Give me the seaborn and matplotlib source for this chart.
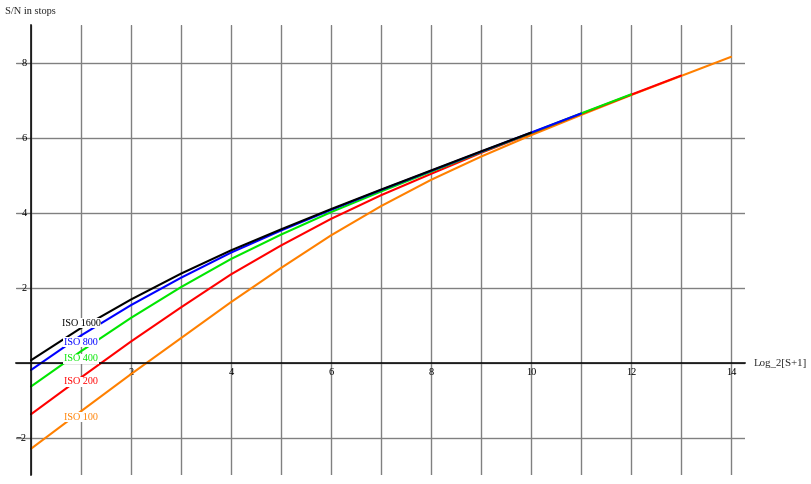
import numpy as np
import pandas as pd
import matplotlib
matplotlib.use("Agg")
import matplotlib.pyplot as plt
from matplotlib.ticker import MultipleLocator, FuncFormatter
import seaborn as sns

# S/N (stops) at integer Log_2[S+1]
iso_1600 = [0.06, 0.92, 1.68, 2.37, 2.99, 3.55, 4.09, 4.61, 5.12, 5.63, 6.13]
iso_800 = [-0.20, 0.72, 1.53, 2.26, 2.93, 3.52, 4.07, 4.60, 5.11, 5.62, 6.13, 6.64]
iso_400 = [-0.64, 0.30, 1.19, 2.01, 2.76, 3.41, 4.01, 4.56, 5.09, 5.61, 6.12, 6.64, 7.15]
iso_200 = [-1.38, -0.40, 0.56, 1.47, 2.35, 3.12, 3.83, 4.46, 5.03, 5.59, 6.11, 6.63, 7.14, 7.65]
iso_100 = [-2.30, -1.30, -0.31, 0.65, 1.61, 2.52, 3.39, 4.17, 4.87, 5.49, 6.06, 6.60, 7.13, 7.64, 8.15]

series = {"ISO 100": iso_100, "ISO 200": iso_200, "ISO 400": iso_400,
          "ISO 800": iso_800, "ISO 1600": iso_1600}
colors = {"ISO 100": "#ff8000", "ISO 200": "#ff0000", "ISO 400": "#00e600",
          "ISO 800": "#0000ff", "ISO 1600": "#000000"}
# label anchor heights near x = 1
label_y = {"ISO 1600": 1.05, "ISO 800": 0.54, "ISO 400": 0.10,
           "ISO 200": -0.52, "ISO 100": -1.46}

rows = []
for name, vals in series.items():
    for x, v in enumerate(vals):
        rows.append({"x": x, "sn": v, "iso": name})
df = pd.DataFrame(rows)

sns.set_style("white")
plt.rcParams["font.family"] = ["Liberation Serif", "DejaVu Serif"]
plt.rcParams["axes.unicode_minus"] = True

fig = plt.figure(figsize=(8.12, 4.84), dpi=100)
ax = fig.add_axes([16 / 812, 9 / 484, 729 / 812, 450 / 484])

sns.lineplot(data=df, x="x", y="sn", hue="iso", hue_order=list(series.keys()),
             palette=colors, linewidth=1.5, legend=False, ax=ax, zorder=3)

ax.set_xlim(-0.3, 14.28)
ax.set_ylim(-3.0, 9.0)

# mathematica style axes through the origin
for side in ["top", "right"]:
    ax.spines[side].set_visible(False)
ax.spines["left"].set_position(("data", 0))
ax.spines["bottom"].set_position(("data", 0))
for side in ["left", "bottom"]:
    ax.spines[side].set_linewidth(1.1)
    ax.spines[side].set_color("black")
    ax.spines[side].set_zorder(4)

ax.xaxis.set_major_locator(MultipleLocator(1))
ax.xaxis.set_minor_locator(MultipleLocator(0.5))
ax.yaxis.set_major_locator(MultipleLocator(2))
ax.yaxis.set_minor_locator(MultipleLocator(0.5))
ax.xaxis.set_major_formatter(FuncFormatter(
    lambda v, p: f"{int(round(v))}" if round(v) % 2 == 0 and round(v) != 0 else ""))
ax.yaxis.set_major_formatter(FuncFormatter(
    lambda v, p: "" if round(v) == 0 else f"{int(round(v))}".replace("-", "\u2212")))

ax.tick_params(which="both", direction="in", color="black", width=0.9,
               labelsize=7.5, labelcolor="black")
ax.tick_params(which="major", length=3.5)
ax.tick_params(which="minor", length=2)
ax.tick_params(axis="x", pad=4)
ax.tick_params(axis="y", pad=3)
ax.set_xlabel("")
ax.set_ylabel("")

ax.grid(True, which="major", color="#808080", linewidth=1.0)
ax.set_axisbelow(True)

for name, yv in label_y.items():
    ax.text(1.0, yv, name, color=colors[name], fontsize=7.3, ha="center", va="center",
            zorder=5, bbox=dict(facecolor="white", edgecolor="none", pad=0.5))

fig.text(5 / 812, 1 - 12 / 484, "S/N in stops", fontsize=7.5, ha="left", va="center")
fig.text(754 / 812, 1 - 363 / 484, "Log_2[S+1]", fontsize=7.8, ha="left", va="center")

fig.savefig("out.png", dpi=100)
